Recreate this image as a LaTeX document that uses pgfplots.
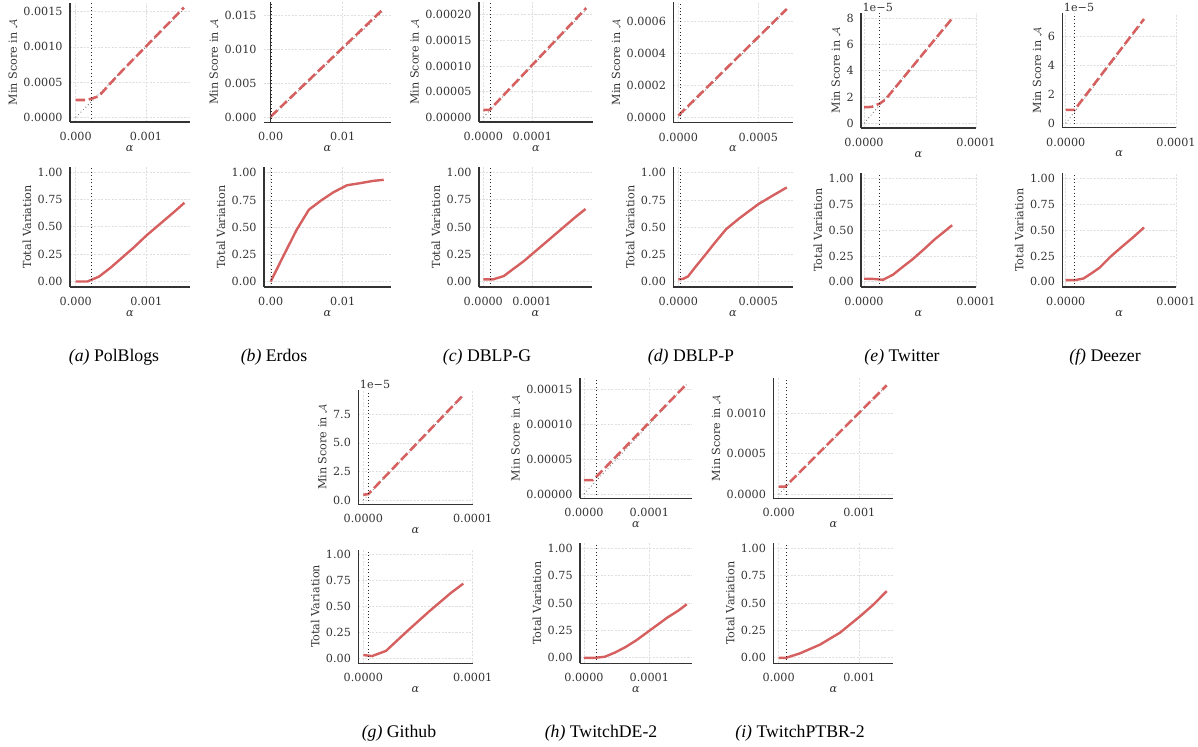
\documentclass[border=0pt]{standalone}
\usepackage{fontspec}
\setmainfont{DejaVu Serif}
\newfontfamily\capfont{Liberation Serif}
\usepackage{pgfplots}
\pgfplotsset{compat=1.18}
\definecolor{myred}{HTML}{D65F5F}
\definecolor{spinec}{HTML}{333333}
\definecolor{textc}{HTML}{333333}
\definecolor{gridc}{HTML}{E0E0E0}
\newcommand{\tfont}{\fontsize{8.4}{9.8}\selectfont}
\newcommand{\cfont}{\capfont\fontsize{13.3}{15}\selectfont}
\pgfplotsset{
 panel/.style n args={4}{
   at={(#1pt,#2pt)}, width=#3pt, height=#4pt,
   scale only axis, anchor=north west,
   axis x line*=bottom, axis y line*=left,
   axis line style={spinec, line width=0.9pt, -},
   every outer x axis line/.append style={-},
   every outer y axis line/.append style={-},
   major tick length=0pt,
   xmajorgrids, ymajorgrids,
   major grid style={gridc, dash pattern=on 1.6pt off 1pt, line width=0.55pt},
   tick label style={font=\tfont, text=textc},
   xticklabel style={yshift=-4pt},
   yticklabel style={xshift=-2pt},
   label style={font=\tfont, text=textc},
   xlabel style={yshift=3.3pt},
   ylabel shift=-2pt,
   xlabel={\textit{α}},
   /pgf/number format/assume math mode=true,
   scaled ticks=false,
   clip=false,
 },
 top/.style={ylabel={Min Score in $\mathcal{A}$}},
 tv/.style={ylabel={Total Variation}, ymin=-0.05, ymax=1.05, ytick={0,0.25,0.5,0.75,1}, yticklabels={0.00,0.25,0.50,0.75,1.00}},
 redd/.style={myred, line width=1.9pt, dash pattern=on 7pt off 2.8pt},
 reds/.style={myred, line width=1.8pt},
 idl/.style={black!60, line width=0.6pt, dotted},
 thr/.style={black!85, line width=0.6pt, dotted},
}
\begin{document}
\begin{tikzpicture}
\path[use as bounding box] (0,0) rectangle (898.5pt,-559.5pt);
% ---------------- (a) PolBlogs
\begin{axis}[panel={52.5}{-2.25}{89.625}{89.25}, top, xmin=-0.0000811, xmax=0.001619, ymin=-0.0000668, ymax=0.001624,
  xtick={0,0.001}, xticklabels={0.000,0.001}, ytick={0,0.0005,0.001,0.0015}, yticklabels={0.0000,0.0005,0.0010,0.0015}]
\addplot[idl] coordinates {(0,0) (0.00154,0.00154)};
\addplot[redd] coordinates {(0,0.000246) (0.000165,0.000246) (0.00033,0.0003) (0.0005,0.00049) (0.00066,0.00066) (0.00154,0.00156)};
\addplot[thr] coordinates {(0.000228,-0.0000668) (0.000228,0.001624)};
\end{axis}
\begin{axis}[panel={52.5}{-125.025}{90}{90.225}, tv, xmin=-0.0000811, xmax=0.001619,
  xtick={0,0.001}, xticklabels={0.000,0.001}]
\addplot[reds] coordinates {(0,0) (0.000165,0) (0.00033,0.045) (0.0005,0.13) (0.00066,0.22) (0.00082,0.31) (0.001,0.42) (0.0012,0.53) (0.0014,0.64) (0.00154,0.72)};
\addplot[thr] coordinates {(0.000228,-0.05) (0.000228,1.05)};
\end{axis}
% ---------------- (b) Erdos
\begin{axis}[panel={198}{-1.5}{95.025}{90.225}, top, xmin=-0.00093, xmax=0.01667, ymin=-0.000735, ymax=0.01696,
  y axis line style={opacity=0},
  xtick={0,0.01}, xticklabels={0.00,0.01}, ytick={0,0.005,0.01,0.015}, yticklabels={0.000,0.005,0.010,0.015}]
\addplot[spinec, line width=0.9pt] coordinates {(0,-0.000735) (0,0.01696)};
\addplot[idl] coordinates {(0,0) (0.0157,0.0157)};
\addplot[redd] coordinates {(0,0.0001) (0.0157,0.0160)};
\addplot[thr] coordinates {(0.0001,-0.000735) (0.0001,0.01696)};
\end{axis}
\begin{axis}[panel={198}{-125.475}{95.025}{89.775}, tv, xmin=-0.00093, xmax=0.01667,
  xtick={0,0.01}, xticklabels={0.00,0.01}]
\addplot[reds] coordinates {(0,0) (0.0018,0.24) (0.0036,0.475) (0.0053,0.66) (0.0070,0.745) (0.0087,0.82) (0.0106,0.885) (0.0125,0.905) (0.0142,0.925) (0.0157,0.935)};
\addplot[thr] coordinates {(0.0001,-0.05) (0.0001,1.05)};
\end{axis}
% ---------------- (c) DBLP-G
\begin{axis}[panel={359.25}{-1.5}{85.275}{90}, top, xmin=-0.0000088, xmax=0.0002233, ymin=-0.00000916, ymax=0.0002248,
  xtick={0,0.0001}, xticklabels={0.0000,0.0001}, ytick={0,0.00005,0.0001,0.00015,0.0002}, yticklabels={0.00000,0.00005,0.00010,0.00015,0.00020}]
\addplot[idl] coordinates {(0,0) (0.00021,0.00021)};
\addplot[redd] coordinates {(0,0.0000142) (0.000013,0.0000145) (0.00021,0.000213)};
\addplot[thr] coordinates {(0.0000137,-0.00000916) (0.0000137,0.0002248)};
\end{axis}
\begin{axis}[panel={359.25}{-125.25}{84.75}{90}, tv, xmin=-0.0000088, xmax=0.0002233,
  xtick={0,0.0001}, xticklabels={0.0000,0.0001}]
\addplot[reds] coordinates {(0,0.02) (0.00002,0.02) (0.000042,0.05) (0.000063,0.12) (0.000084,0.19) (0.000105,0.27) (0.000126,0.35) (0.000147,0.43) (0.000168,0.51) (0.000189,0.59) (0.00021,0.665)};
\addplot[thr] coordinates {(0.0000137,-0.05) (0.0000137,1.05)};
\end{axis}
% ---------------- (d) DBLP-P
\begin{axis}[panel={504.975}{-1.5}{89.55}{90.525}, top, xmin=-0.0000313, xmax=0.000715, ymin=-0.0000339, ymax=0.000724,
  xtick={0,0.0005}, xticklabels={0.0000,0.0005}, ytick={0,0.0002,0.0004,0.0006}, yticklabels={0.0000,0.0002,0.0004,0.0006}]
\addplot[idl] coordinates {(0,0) (0.000678,0.000678)};
\addplot[redd] coordinates {(0,0.000011) (0.000678,0.00068)};
\addplot[thr] coordinates {(0.0000106,-0.0000339) (0.0000106,0.000724)};
\end{axis}
\begin{axis}[panel={504.975}{-125.475}{89.55}{89.775}, tv, xmin=-0.0000313, xmax=0.000715,
  xtick={0,0.0005}, xticklabels={0.0000,0.0005}]
\addplot[reds] coordinates {(0,0.02) (0.00003,0.025) (0.00006,0.046) (0.00011,0.14) (0.000164,0.237) (0.00023,0.36) (0.0003,0.483) (0.000382,0.582) (0.0005,0.711) (0.00059,0.79) (0.000678,0.865)};
\addplot[thr] coordinates {(0.0000106,-0.05) (0.0000106,1.05)};
\end{axis}
% ---------------- (e) Twitter  (y in units of 1e-5)
\begin{axis}[panel={645.75}{-9.75}{86.25}{86.25}, top, xmin=-0.0000027, xmax=0.0001, ymin=-0.36, ymax=8.4,
  xtick={0,0.0001}, xticklabels={0.0000,0.0001}, ytick={0,2,4,6,8}, yticklabels={0,2,4,6,8}]
\addplot[idl] coordinates {(0,0) (0.0000785,7.85)};
\addplot[redd] coordinates {(0,1.22) (0.000007,1.25) (0.000014,1.5) (0.000019,1.8) (0.0000783,7.95)};
\addplot[thr] coordinates {(0.0000137,-0.36) (0.0000137,8.4)};
\node[anchor=south west, font=\tfont, text=textc, inner sep=1pt] at (rel axis cs:0,1) {1e−5};
\end{axis}
\begin{axis}[panel={645.75}{-129.975}{86.25}{85.275}, tv, xmin=-0.0000027, xmax=0.0001,
  xtick={0,0.0001}, xticklabels={0.0000,0.0001}]
\addplot[reds] coordinates {(0,0.03) (0.000008,0.028) (0.000017,0.02) (0.000026,0.07) (0.000034,0.14) (0.000043,0.215) (0.000053,0.31) (0.000063,0.41) (0.000071,0.48) (0.0000787,0.548)};
\addplot[thr] coordinates {(0.0000137,-0.05) (0.0000137,1.05)};
\end{axis}
% ---------------- (f) Deezer
\begin{axis}[panel={796.725}{-9.975}{85.275}{85.8}, top, xmin=-0.0000031, xmax=0.0001, ymin=-0.30, ymax=7.56,
  xtick={0,0.0001}, xticklabels={0.0000,0.0001}, ytick={0,2,4,6}, yticklabels={0,2,4,6}]
\addplot[idl] coordinates {(0,0) (0.000071,7.1)};
\addplot[redd] coordinates {(0,0.92) (0.000008,0.93) (0.000071,7.17)};
\addplot[thr] coordinates {(0.0000075,-0.30) (0.0000075,7.56)};
\node[anchor=south west, font=\tfont, text=textc, inner sep=1pt] at (rel axis cs:0,1) {1e−5};
\end{axis}
\begin{axis}[panel={796.725}{-129.975}{85.275}{85.275}, tv, xmin=-0.0000031, xmax=0.0001,
  xtick={0,0.0001}, xticklabels={0.0000,0.0001}]
\addplot[reds] coordinates {(0,0.016) (0.000008,0.016) (0.000016,0.032) (0.000023,0.08) (0.0000305,0.135) (0.000041,0.247) (0.000051,0.34) (0.000061,0.43) (0.000071,0.526)};
\addplot[thr] coordinates {(0.0000075,-0.05) (0.0000075,1.05)};
\end{axis}
% ---------------- (g) Github
\begin{axis}[panel={268.725}{-292.5}{85.8}{85.725}, top, xmin=-0.0000046, xmax=0.0001, ymin=-0.38, ymax=9.63,
  xtick={0,0.0001}, xticklabels={0.0000,0.0001}, ytick={0,2.5,5,7.5}, yticklabels={0.0,2.5,5.0,7.5}]
\addplot[idl] coordinates {(0,0) (0.0000914,9.14)};
\addplot[redd] coordinates {(0,0.45) (0.0000046,0.52) (0.0000914,9.19)};
\addplot[thr] coordinates {(0.0000046,-0.38) (0.0000046,9.63)};
\node[anchor=south west, font=\tfont, text=textc, inner sep=1pt] at (rel axis cs:0,1) {1e−5};
\end{axis}
\begin{axis}[panel={268.725}{-412.125}{85.8}{85.35}, tv, xmin=-0.0000046, xmax=0.0001,
  xtick={0,0.0001}, xticklabels={0.0000,0.0001}]
\addplot[reds] coordinates {(0,0.03) (0.000008,0.02) (0.0000207,0.07) (0.00004,0.26) (0.00006,0.45) (0.00008,0.63) (0.0000914,0.72)};
\addplot[thr] coordinates {(0.0000046,-0.05) (0.0000046,1.05)};
\end{axis}
% ---------------- (h) TwitchDE-2
\begin{axis}[panel={435}{-283.725}{83.775}{90}, top, xmin=-0.0000061, xmax=0.0001649, ymin=-0.0000062, ymax=0.0001657,
  xtick={0,0.0001}, xticklabels={0.0000,0.0001}, ytick={0,0.00005,0.0001,0.00015}, yticklabels={0.00000,0.00005,0.00010,0.00015}]
\addplot[idl] coordinates {(0,0) (0.0001573,0.0001573)};
\addplot[redd] coordinates {(0,0.00002) (0.000014,0.00002) (0.0001573,0.0001576)};
\addplot[thr] coordinates {(0.0000184,-0.0000062) (0.0000184,0.0001657)};
\end{axis}
\begin{axis}[panel={435}{-407.25}{83.775}{90.225}, tv, xmin=-0.0000061, xmax=0.0001649,
  xtick={0,0.0001}, xticklabels={0.0000,0.0001}]
\addplot[reds] coordinates {(0,0) (0.000016,0) (0.000032,0.01) (0.000048,0.05) (0.000064,0.1) (0.00008,0.16) (0.000096,0.23) (0.000112,0.30) (0.000128,0.37) (0.000144,0.43) (0.0001573,0.49)};
\addplot[thr] coordinates {(0.0000184,-0.05) (0.0000184,1.05)};
\end{axis}
% ---------------- (i) TwitchPTBR-2
\begin{axis}[panel={579.975}{-283.725}{90}{90}, top, xmin=-0.000067, xmax=0.001422, ymin=-0.0000494, ymax=0.001432,
  xtick={0,0.001}, xticklabels={0.000,0.001}, ytick={0,0.0005,0.001}, yticklabels={0.0000,0.0005,0.0010}]
\addplot[idl] coordinates {(0,0) (0.00134,0.00134)};
\addplot[redd] coordinates {(0,0.000094) (0.00008,0.000094) (0.00134,0.001346)};
\addplot[thr] coordinates {(0.0000906,-0.0000494) (0.0000906,0.001432)};
\end{axis}
\begin{axis}[panel={579.975}{-407.25}{90}{90.225}, tv, xmin=-0.000067, xmax=0.001422,
  xtick={0,0.001}, xticklabels={0.000,0.001}]
\addplot[reds] coordinates {(0,0) (0.00009,0) (0.00026,0.04) (0.00051,0.12) (0.00076,0.23) (0.00101,0.38) (0.00118,0.49) (0.00134,0.61)};
\addplot[thr] coordinates {(0.0000906,-0.05) (0.0000906,1.05)};
\end{axis}
% ---------------- captions
\node[font=\cfont] at (85.5pt,-267.75pt) {\textit{(a)} PolBlogs};
\node[font=\cfont] at (205.5pt,-267.75pt) {\textit{(b)} Erdos};
\node[font=\cfont] at (365.25pt,-267.75pt) {\textit{(c)} DBLP-G};
\node[font=\cfont] at (518.25pt,-267.75pt) {\textit{(d)} DBLP-P};
\node[font=\cfont] at (676.5pt,-267.75pt) {\textit{(e)} Twitter};
\node[font=\cfont] at (828.75pt,-267.75pt) {\textit{(f)} Deezer};
\node[font=\cfont] at (299.25pt,-549.75pt) {\textit{(g)} Github};
\node[font=\cfont] at (450.75pt,-549.75pt) {\textit{(h)} TwitchDE-2};
\node[font=\cfont] at (600pt,-549.75pt) {\textit{(i)} TwitchPTBR-2};
\end{tikzpicture}
\end{document}
